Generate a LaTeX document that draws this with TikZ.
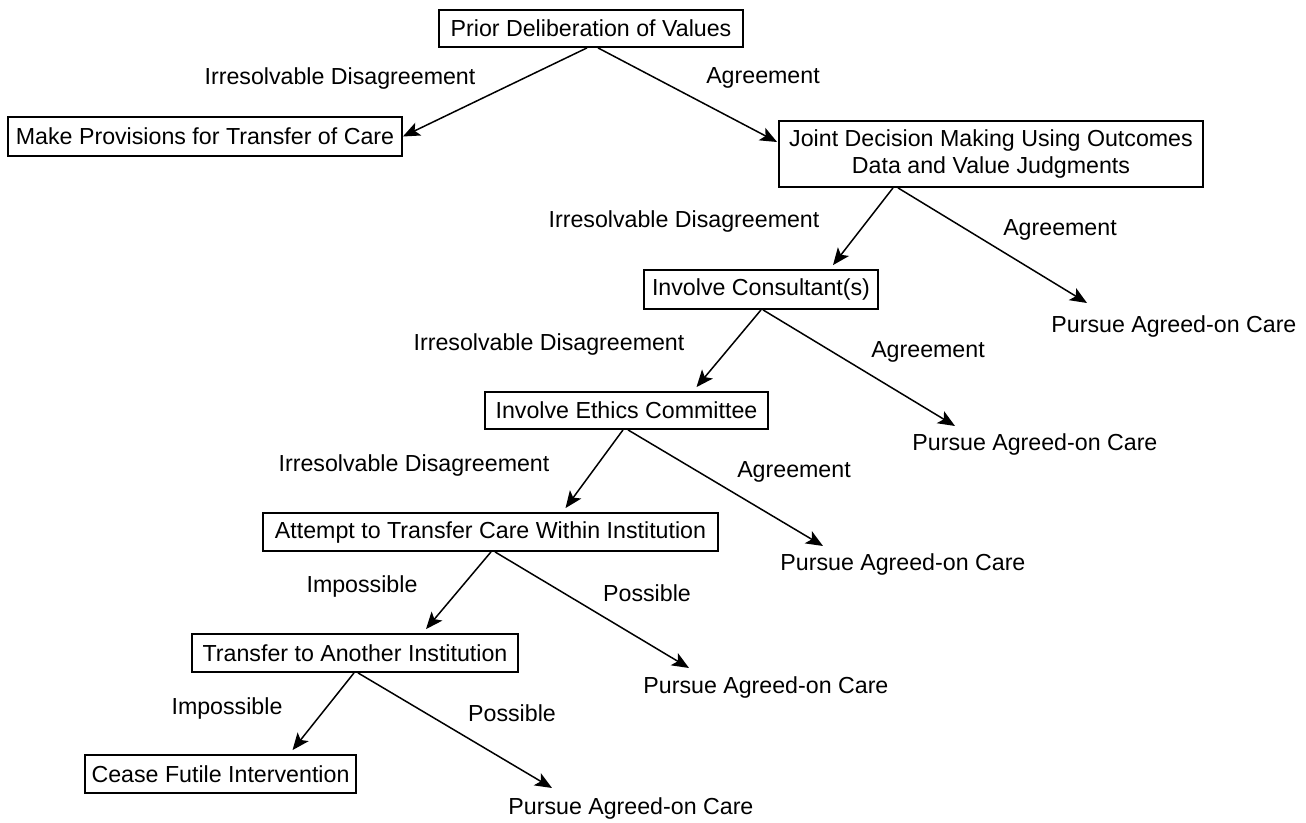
\documentclass[tikz,border=0pt]{standalone}
\usepackage{fontspec}
\setmainfont{Liberation Sans}
\usetikzlibrary{arrows.meta,calc}
\tikzset{
  box/.style={draw=black, line width=0.9pt, inner sep=0pt, align=center, font=\fontsize{11.6}{13.5}\selectfont},
  lbl/.style={inner sep=0pt, font=\fontsize{11.6}{13.5}\selectfont},
  arr/.style={line width=0.75pt, -{Stealth[length=8.5pt,width=7pt,inset=2pt]}}
}
\begin{document}
\begin{tikzpicture}[x=0.5pt,y=-0.5pt]
\useasboundingbox[fill=white] (0,0) rectangle (1306,823);
% boxes
\node[box, minimum width=152pt, minimum height=18.5pt] (b1) at (591,28.5) {Prior Deliberation of Values};
\node[box, minimum width=197pt, minimum height=19.5pt] (b2) at (205,136.5) {Make Provisions for Transfer of Care};
\node[box, minimum width=212pt, minimum height=33pt] (b3) at (991,154) {Joint Decision Making Using Outcomes\\Data and Value Judgments};
\node[box, minimum width=117pt, minimum height=19.5pt] (b4) at (761,289.5) {Involve Consultant(s)};
\node[box, minimum width=141.5pt, minimum height=18.5pt] (b5) at (626.5,410.5) {Involve Ethics Committee};
\node[box, minimum width=227.5pt, minimum height=19pt] (b6) at (490.5,532) {Attempt to Transfer Care Within Institution};
\node[box, minimum width=163pt, minimum height=19pt] (b7) at (355,653) {Transfer to Another Institution};
\node[box, minimum width=135.5pt, minimum height=19pt] (b8) at (220.5,774) {Cease Futile Intervention};
% outcome texts
\node[lbl, anchor=west] (p1) at (1051,327) {Pursue Agreed-on Care};
\node[lbl, anchor=west] (p2) at (912,445) {Pursue Agreed-on Care};
\node[lbl, anchor=west] (p3) at (780,565) {Pursue Agreed-on Care};
\node[lbl, anchor=west] (p4) at (643,687) {Pursue Agreed-on Care};
\node[lbl, anchor=west] (p5) at (508,808) {Pursue Agreed-on Care};
% edge labels
\node[lbl] (l1) at (340,79) {Irresolvable Disagreement};
\node[lbl] (l2) at (763,78) {Agreement};
\node[lbl] (l3) at (684,222) {Irresolvable Disagreement};
\node[lbl] (l4) at (1060,230) {Agreement};
\node[lbl] (l5) at (549,345) {Irresolvable Disagreement};
\node[lbl] (l6) at (928,352) {Agreement};
\node[lbl] (l7) at (414,466) {Irresolvable Disagreement};
\node[lbl] (l8) at (794,472) {Agreement};
\node[lbl] (l9) at (362,587) {Impossible};
\node[lbl] (l10) at (647,593) {Possible};
\node[lbl] (l11) at (227,708) {Impossible};
\node[lbl] (l12) at (512,713) {Possible};
% connectors
\draw[arr] ($(b1.south)+(-4,0)$) -- (b2.east);
\draw[arr] ($(b1.south)+(7,0)$) -- ($(b3.west)+(-1,-12)$);
\draw[arr] ($(b3.south)+(-98,0)$) -- ($(b4.north)+(72,-4)$);
\draw[arr] ($(b3.south)+(-93,0)$) -- ($(p1.west)+(36,-24)$);
\draw[arr] ($(b4.south)+(0,0)$) -- ($(b5.north)+(70,-4)$);
\draw[arr] ($(b4.south)+(2,0)$) -- ($(p2.west)+(43,-19)$);
\draw[arr] ($(b5.south)+(-3.5,0)$) -- ($(b6.north)+(75,-4)$);
\draw[arr] ($(b5.south)+(1.5,0)$) -- ($(p3.west)+(43,-19)$);
\draw[arr] ($(b6.south)+(0.5,0)$) -- ($(b7.north)+(71,-4)$);
\draw[arr] ($(b6.south)+(4.5,0)$) -- ($(p4.west)+(46,-19)$);
\draw[arr] ($(b7.south)+(-1,0)$) -- ($(b8.north)+(72,-4)$);
\draw[arr] ($(b7.south)+(3,0)$) -- ($(p5.west)+(44,-20)$);
\end{tikzpicture}
\end{document}
